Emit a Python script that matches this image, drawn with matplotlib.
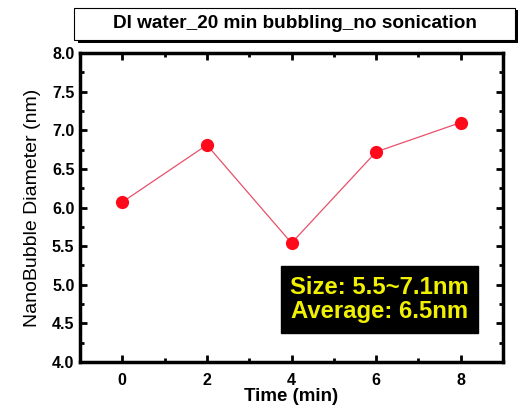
import matplotlib.pyplot as plt
from matplotlib.patches import Rectangle
from matplotlib.ticker import MultipleLocator

plt.rcParams['font.family'] = ['Liberation Sans', 'DejaVu Sans']

# data
time_min = [0, 2, 4, 6, 8]
diameter_nm = [6.07, 6.81, 5.54, 6.72, 7.10]
title = "DI water_20 min bubbling_no sonication"
note = "Size: 5.5~7.1nm\nAverage: 6.5nm"

fig = plt.figure(figsize=(5.27, 4.09), dpi=100)
ax = fig.add_axes([0.1518, 0.1149, 0.8027, 0.7555])

ax.plot(time_min, diameter_nm, color='#e8506a', lw=0.9, zorder=2)
ax.plot(time_min, diameter_nm, 'o', color='#ff0a1a', markersize=9.5, mec='none', zorder=3)

ax.set_xlim(-1, 9)
ax.set_ylim(4.0, 8.0)
ax.xaxis.set_major_locator(MultipleLocator(2))
ax.xaxis.set_minor_locator(MultipleLocator(1))
ax.yaxis.set_major_locator(MultipleLocator(0.5))
ax.yaxis.set_minor_locator(MultipleLocator(0.25))
ax.tick_params(which='both', direction='in', top=True, right=True, width=2)
ax.tick_params(which='major', length=5, labelsize=11.5)
ax.tick_params(which='minor', length=3)
ax.tick_params(axis='x', pad=8)
ax.tick_params(axis='y', pad=4)
ax.yaxis.set_major_formatter(plt.FormatStrFormatter('%.1f'))
for lab in ax.get_xticklabels() + ax.get_yticklabels():
    lab.set_fontweight('bold')
for sp in ax.spines.values():
    sp.set_linewidth(2.5)

ax.set_xlabel('Time (min)', fontsize=13.5, fontweight='bold', labelpad=0)
ax.set_ylabel('NanoBubble Diameter (nm)', fontsize=14, labelpad=8)

ax.text(0.708, 0.202, note, transform=ax.transAxes, ha='center', va='center',
        color='#f0f000', fontsize=17.2, fontweight='bold', linespacing=1.1,
        bbox=dict(boxstyle='square,pad=0.4', facecolor='black', edgecolor='black'))

# title box with a drop shadow
W, H = 527, 409
fig.patches.append(Rectangle((78 / W, (H - 43) / H), 440 / W, 33 / H,
                             transform=fig.transFigure, facecolor='black',
                             edgecolor='none', zorder=1))
fig.patches.append(Rectangle((74 / W, (H - 40) / H), 441 / W, 32 / H,
                             transform=fig.transFigure, facecolor='white',
                             edgecolor='black', lw=0.8, zorder=2))
fig.text(295 / W, (H - 24) / H, title, ha='center', va='center',
         fontsize=13.7, fontweight='bold', zorder=3)

fig.savefig('out.png', dpi=100)
